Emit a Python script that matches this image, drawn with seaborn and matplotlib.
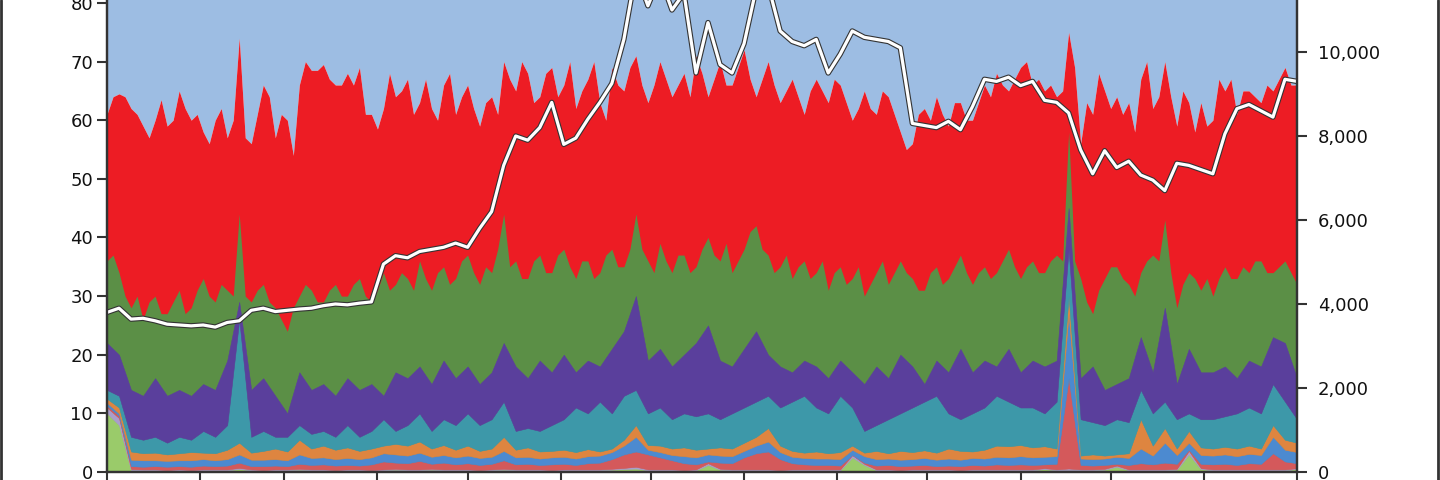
import numpy as np
import pandas as pd
import matplotlib
matplotlib.use("Agg")
import matplotlib.pyplot as plt
import matplotlib.dates as mdates
from matplotlib import patheffects
from matplotlib.lines import Line2D
import seaborn as sns

# lower bands and price: one sample every 4 days, 2019-01-01 .. 2020-02-01
dates = pd.date_range("2019-01-01", periods=100, freq="4D")
# the two big bands are read every 2 days (they are the jagged ones)
dates2 = pd.date_range("2019-01-01", periods=199, freq="2D")

# upper edge of each stacked band (cumulative %)
lime_top = [10, 8, 0.3, 0.3, 0.3, 0.2, 0.3, 0.2, 0.3, 0.3,
            0.3, 0.5, 0.3, 0.2, 0.3, 0.3, 0.4, 0.3, 0.3, 0.2,
            0.3, 0.3, 0.2, 0.3, 0.4, 0.3, 0.3, 0.4, 0.3, 0.3,
            0.3, 0.2, 0.3, 0.4, 0.3, 0.3, 0.3, 0.2, 0.3, 0.3,
            0.3, 0.3, 0.4, 0.5, 0.6, 0.3, 0.3, 0.3, 0.2, 0.3,
            1.2, 0.4, 0.3, 0.3, 0.3, 0.3, 0.2, 0.3, 0.3, 0.3,
            0.3, 0.3, 2.5, 1.2, 0.3, 0.3, 0.2, 0.3, 0.3, 0.3,
            0.3, 0.2, 0.3, 0.3, 0.3, 0.3, 0.3, 0.3, 0.5, 0.3,
            0.3, 0.3, 0.3, 0.4, 0.9, 0.3, 0.3, 0.3, 0.3, 0.4,
            3.0, 0.5, 0.3, 0.3, 0.3, 0.3, 0.3, 0.3, 0.3, 0.5]
lavender_top = [11, 9.2, 0.5, 0.45, 0.45, 0.35, 0.45, 0.35, 0.45, 0.45,
                0.45, 0.7, 0.45, 0.35, 0.45, 0.45, 0.55, 0.45, 0.45, 0.35,
                0.45, 0.45, 0.35, 0.45, 0.55, 0.45, 0.45, 0.55, 0.45, 0.45,
                0.45, 0.35, 0.45, 0.55, 0.45, 0.45, 0.45, 0.35, 0.45, 0.45,
                0.45, 0.45, 0.55, 0.7, 0.9, 0.45, 0.45, 0.45, 0.35, 0.45,
                1.5, 0.55, 0.45, 0.45, 0.45, 0.45, 0.35, 0.45, 0.45, 0.45,
                0.45, 0.45, 2.9, 1.4, 0.45, 0.45, 0.35, 0.45, 0.45, 0.45,
                0.45, 0.35, 0.45, 0.45, 0.45, 0.45, 0.45, 0.45, 0.65, 0.45,
                0.6, 0.45, 0.45, 0.55, 1.1, 0.45, 0.45, 0.45, 0.45, 0.55,
                3.6, 0.65, 0.45, 0.45, 0.45, 0.45, 0.45, 0.45, 0.45, 0.65]
salmon_top = [11.3, 9.6, 1.0, 0.9, 1.0, 0.9, 1.0, 0.9, 1.1, 1.0,
              1.1, 1.6, 1.0, 1.0, 1.1, 1.0, 1.4, 1.2, 1.3, 1.1,
              1.2, 1.1, 1.3, 1.8, 1.6, 1.5, 1.9, 1.4, 1.6, 1.3,
              1.5, 1.2, 1.4, 2.0, 1.3, 1.4, 1.2, 1.3, 1.4, 1.2,
              1.5, 1.6, 2.2, 3.0, 3.5, 3.0, 2.5, 2.0, 1.5, 1.3,
              1.8, 1.6, 1.5, 2.5, 3.2, 3.5, 2.2, 1.5, 1.3, 1.2,
              1.2, 1.1, 2.9, 1.6, 1.1, 1.2, 1.0, 1.1, 1.2, 1.0,
              1.1, 1.0, 1.2, 1.1, 1.3, 1.2, 1.3, 1.2, 1.3, 1.4,
              16, 1.2, 1.1, 1.2, 1.4, 1.2, 1.5, 1.3, 1.6, 1.4,
              3.8, 1.4, 1.3, 1.4, 1.2, 1.5, 1.4, 3.2, 1.8, 1.5]
blue_top = [11.8, 10.0, 2.1, 2.0, 2.0, 1.9, 2.0, 2.0, 2.2, 2.0,
            2.2, 3.0, 2.1, 2.1, 2.2, 2.0, 3.0, 2.4, 2.5, 2.2,
            2.4, 2.2, 2.5, 3.2, 3.0, 2.8, 3.3, 2.6, 2.9, 2.5,
            2.8, 2.4, 2.6, 3.6, 2.5, 2.6, 2.3, 2.5, 2.6, 2.3,
            2.7, 2.8, 3.4, 4.5, 6.0, 3.8, 3.4, 2.9, 2.7, 2.5,
            3.0, 2.8, 2.7, 3.6, 4.5, 5.2, 3.4, 2.6, 2.4, 2.3,
            2.3, 2.2, 3.8, 2.7, 2.2, 2.3, 2.1, 2.2, 2.4, 2.1,
            2.3, 2.1, 2.4, 2.3, 2.6, 2.5, 2.7, 2.5, 2.6, 2.7,
            27, 2.3, 2.2, 2.3, 2.6, 2.4, 4.0, 2.8, 5.0, 2.9,
            5.0, 2.9, 2.8, 3.0, 2.7, 3.1, 2.9, 6.0, 3.8, 3.4]
orange_top = [12.5, 11, 3.5, 3.2, 3.3, 3.0, 3.2, 3.4, 3.3, 3.2,
              3.8, 5.0, 3.3, 3.6, 4.0, 3.5, 5.5, 4.0, 4.5, 3.8,
              4.2, 3.6, 4.0, 4.5, 4.8, 4.5, 5.2, 4.0, 4.6, 3.8,
              4.5, 3.6, 4.0, 6.0, 3.8, 4.2, 3.5, 3.6, 3.8, 3.4,
              3.9, 3.5, 4.0, 5.5, 8.0, 4.6, 4.5, 4.0, 4.2, 3.8,
              4.0, 4.2, 4.0, 5.0, 6.0, 7.5, 4.5, 3.6, 3.3, 3.5,
              3.2, 3.4, 4.5, 3.3, 3.6, 3.2, 3.6, 3.4, 3.7, 3.3,
              4.0, 3.6, 3.5, 3.8, 4.5, 4.4, 4.6, 4.2, 4.4, 4.0,
              30, 2.8, 3.0, 2.8, 3.0, 3.2, 9.0, 4.5, 7.5, 4.0,
              7.0, 4.2, 4.0, 4.3, 4.0, 4.5, 4.0, 8.0, 5.5, 5.0]
teal_top = [14, 13, 6, 5.5, 6, 5, 6, 5.5, 7, 6,
            8, 26, 6, 7, 6, 6, 8, 6.5, 7, 6,
            8, 6, 7, 9, 7, 8, 10, 7, 9, 8,
            10, 8, 9, 12, 7, 7.5, 7, 8, 9, 11,
            10, 12, 10, 13, 14, 10, 11, 9, 10, 9.5,
            10, 9, 10, 11, 12, 13, 11, 12, 13, 11,
            10, 13, 11, 7, 8, 9, 10, 11, 12, 13,
            10, 9, 10, 11, 13, 12, 11, 11, 10, 12,
            38, 9, 8.5, 8, 9, 8.5, 14, 10, 12, 9,
            10, 9, 9, 9.5, 10, 11, 10, 15, 12, 9]
purple_top = [22, 20, 14, 13, 16, 13, 14, 13, 15, 14,
              19, 29, 14, 16, 13, 10, 17, 14, 15, 13,
              16, 14, 15, 13, 17, 16, 18, 15, 19, 16,
              18, 15, 17, 22, 18, 16, 19, 17, 20, 17,
              19, 18, 21, 24, 30, 19, 21, 18, 20, 22,
              25, 19, 18, 21, 24, 20, 18, 17, 19, 18,
              16, 19, 17, 15, 18, 16, 20, 18, 15, 19,
              17, 21, 17, 19, 18, 21, 17, 19, 18, 19,
              45, 16, 18, 14, 15, 16, 23, 17, 28, 15,
              21, 17, 17, 18, 16, 19, 18, 23, 22, 16]

# 2-day upper edges of the green and red bands
green_top = [36, 37, 34, 30, 28, 30, 26, 29, 30, 27,
             27, 29, 31, 27, 28, 31, 33, 30, 29, 32,
             31, 30, 44, 30, 29, 31, 32, 29, 28, 26,
             24, 28, 30, 32, 31, 29, 29, 31, 32, 30,
             30, 32, 33, 30, 29, 31, 34, 31, 32, 34,
             33, 31, 36, 33, 31, 34, 35, 32, 33, 36,
             37, 34, 32, 35, 34, 38, 44, 35, 36, 33,
             33, 36, 37, 34, 34, 37, 38, 35, 33, 36,
             36, 33, 34, 37, 38, 35, 35, 38, 44, 38,
             36, 34, 39, 36, 34, 37, 37, 34, 35, 38,
             40, 37, 36, 39, 34, 36, 38, 41, 42, 38,
             37, 34, 35, 37, 33, 35, 36, 33, 34, 36,
             31, 34, 35, 32, 33, 35, 30, 32, 34, 36,
             32, 34, 36, 34, 33, 31, 31, 34, 35, 32,
             33, 35, 37, 34, 32, 34, 35, 33, 34, 36,
             38, 35, 33, 35, 36, 34, 34, 36, 37, 36,
             58, 36, 33, 29, 27, 31, 33, 35, 35, 33,
             32, 30, 34, 36, 37, 36, 43, 34, 28, 32,
             34, 33, 31, 33, 30, 33, 35, 33, 33, 35,
             34, 36, 36, 34, 34, 35, 36, 34, 32]
red_top = [61, 64, 64.5, 64, 62, 61, 59, 57, 60, 63.5,
           59, 60, 65, 62, 60, 61, 58, 56, 60, 62,
           57, 60, 74, 57, 56, 61, 66, 64, 57, 61,
           60, 54, 66, 70, 68.5, 68.5, 69.5, 67, 66, 66,
           68, 66, 69, 61, 61, 58.5, 62, 68, 64, 65,
           67, 61, 63, 67, 62, 60, 66, 68, 61, 64,
           66, 62, 59, 63, 64, 61, 70, 67, 65, 70,
           68, 63, 64, 68, 69, 64, 66, 70, 62, 65,
           67, 70, 63, 60, 69, 66, 65, 69, 71, 66,
           63, 66, 70, 67, 64, 66, 68, 64, 71, 68,
           64, 67, 70, 66, 66, 69, 72, 67, 64, 67,
           70, 66, 63, 65, 67, 64, 61, 65, 67, 65,
           63, 67, 66, 63, 60, 62, 65, 62, 61, 65,
           64, 61, 58, 55, 56, 61, 62, 60, 64, 61,
           59, 63, 63, 60, 60, 63, 66, 64, 68, 66,
           65, 67, 69, 70, 66, 67, 65, 66, 64, 65,
           75, 69, 56, 63, 61, 68, 65, 62, 64, 61,
           63, 58, 67, 70, 62, 64, 70, 64, 59, 65,
           63, 58, 63, 59, 60, 67, 65, 67, 61, 65,
           65, 64, 63, 66, 65, 67, 69, 66, 66]

# price on the right axis
price = [3800, 3900, 3640, 3660, 3600, 3520, 3500, 3480, 3500, 3450,
         3560, 3600, 3850, 3900, 3820, 3850, 3880, 3900, 3960, 4000,
         3980, 4020, 4050, 4950, 5150, 5100, 5250, 5300, 5350, 5450,
         5350, 5800, 6200, 7300, 8000, 7900, 8200, 8800, 7800, 7950,
         8400, 8800, 9250, 10300, 11900, 11100, 11800, 11000, 11400, 9500,
         10700, 9700, 9500, 10200, 11500, 11600, 10500, 10250, 10150, 10300,
         9500, 9950, 10500, 10350, 10300, 10250, 10100, 8300, 8250, 8200,
         8350, 8150, 8700, 9350, 9300, 9400, 9200, 9300, 8850, 8800,
         8550, 7670, 7100, 7650, 7250, 7400, 7070, 6950, 6700, 7350,
         7300, 7200, 7100, 8050, 8650, 8750, 8600, 8450, 9350, 9300]

low_colors = ["#9acb6a", "#aa9dcc", "#d4595b", "#4c8ad0", "#de8540",
              "#3d98a9", "#5a3f9c"]
green_c, red_c, top_c = "#5b8f46", "#ed1c24", "#9dbde3"

sns.set_style("ticks")
plt.rcParams["font.family"] = ["DejaVu Sans"]

fig = plt.figure(figsize=(14.4, 4.8), dpi=100)
ax = fig.add_axes([107 / 1440, 8 / 480, 1190 / 1440, 472 / 480])

# big bands first, then the small ones stacked on top of them
ax.fill_between(dates2, red_top, 100, color=top_c, linewidth=0)
ax.fill_between(dates2, 0, red_top, color=red_c, linewidth=0)
ax.fill_between(dates2, 0, green_top, color=green_c, linewidth=0)

edges = np.vstack([np.zeros(len(dates)), lime_top, lavender_top, salmon_top,
                   blue_top, orange_top, teal_top, purple_top])
bands = np.diff(edges, axis=0)
polys = ax.stackplot(dates, bands, colors=low_colors, linewidth=0.4)
for p, c in zip(polys, low_colors):
    p.set_edgecolor(c)

ax.set_ylim(0, 80.5)
ax.set_yticks(range(0, 81, 10))
ax.set_xlim(dates[0], dates[-1])
ax.xaxis.set_major_locator(mdates.MonthLocator())
ax.tick_params(axis="x", labelbottom=False, length=8, width=1.5, color="#333333")
ax.tick_params(axis="y", labelsize=13, length=7, width=1.5, pad=3,
               color="#333333", labelcolor="#111111")

ax2 = ax.twinx()
sns.lineplot(x=dates, y=price, ax=ax2, color="white", linewidth=2.3,
             path_effects=[patheffects.Stroke(linewidth=3.9, foreground="#333333"),
                           patheffects.Normal()])
ax2.set_ylim(0, 11238)
ax2.set_yticks(range(0, 10001, 2000))
ax2.set_yticklabels([f"{v:,}" for v in range(0, 10001, 2000)])
ax2.tick_params(axis="y", labelsize=13, length=7, width=1.5, pad=8,
                color="#333333", labelcolor="#111111")
ax2.set_ylabel("")

for a in (ax, ax2):
    a.spines["top"].set_visible(False)
    for s in ("left", "right", "bottom"):
        a.spines[s].set_linewidth(1.6)
        a.spines[s].set_color("#333333")

# frame edges of the original graphic
fig.add_artist(Line2D([0.0008, 0.0008], [0, 1], color="#333333", linewidth=2))
fig.add_artist(Line2D([0.9985, 0.9985], [0, 1], color="#333333", linewidth=2))

fig.savefig("out.png", dpi=100)
